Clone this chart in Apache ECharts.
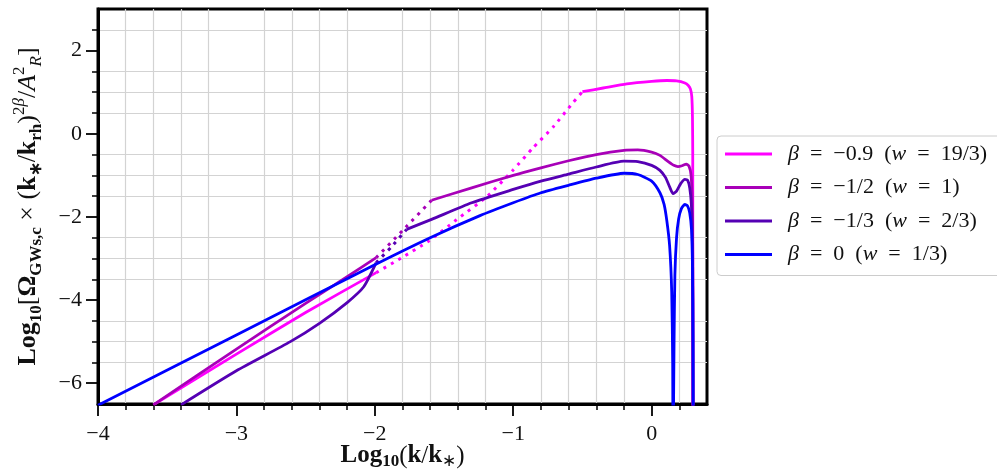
<!DOCTYPE html>
<html><head><meta charset="utf-8">
<script src="https://cdn.jsdelivr.net/npm/echarts@6/dist/echarts.min.js"></script>
<style>html,body{margin:0;padding:0;background:#fff}#c{width:997px;height:470px}</style>
</head><body><div id="c"></div>
<script>
// ---- tick values ----
const xMajorTicks = [-4, -3, -2, -1, 0];
const xMinorTicks = [-3.8, -3.6, -3.4, -3.2, -2.8, -2.6, -2.4, -2.2, -1.8, -1.6, -1.4, -1.2, -0.8, -0.6, -0.4, -0.2, 0.2];
const yMajorTicks = [-6, -4, -2, 0, 2];
const yMinorTicks = [-5.5, -5, -4.5, -3.5, -3, -2.5, -1.5, -1, -0.5, 0.5, 1, 1.5, 2.5];

// ---- legend names ----
const names = ['β  =  −0.9  (w  =  19/3)', 'β  =  −1/2  (w  =  1)', 'β  =  −1/3  (w  =  2/3)', 'β  =  0  (w  =  1/3)'];

// ---- beta = -0.9 (w = 19/3) ----
const m09Low = [[-3.60, -6.52], [-3.0, -5.30], [-2.5, -4.30], [-1.99, -3.34]];
const m09Dot = [[-1.99, -3.34], [-1.81, -2.99], [-1.61, -2.58], [-1.41, -2.07], [-1.19, -1.51], [-1.0, -0.87], [-0.86, -0.35], [-0.71, 0.17], [-0.57, 0.74], [-0.50, 1.01]];
const m09High = [[-0.50, 1.01], [-0.35, 1.10], [-0.18, 1.20], [0.0, 1.26], [0.11, 1.28], [0.18, 1.27], [0.24, 1.22], [0.265, 1.16], [0.28, 1.08], [0.29, 0.9], [0.295, 0.4], [0.297, -0.5], [0.298, -8]];

// ---- beta = -1/2 (w = 1) ----
const m05Low = [[-3.60, -6.52], [-3.0, -5.18], [-2.5, -4.08], [-2.2, -3.44], [-1.99, -2.98]];
const m05Dot = [[-1.99, -2.98], [-1.80, -2.33], [-1.59, -1.60]];
const m05High = [[-1.59, -1.60], [-1.3, -1.30], [-1.0, -1.00], [-0.8, -0.82], [-0.6, -0.65], [-0.4, -0.50], [-0.2, -0.40], [-0.1, -0.39], [0.0, -0.44], [0.06, -0.52], [0.12, -0.67], [0.16, -0.76], [0.19, -0.79], [0.22, -0.77], [0.25, -0.73], [0.27, -0.78], [0.285, -1.0], [0.293, -1.6], [0.297, -3.0], [0.299, -8]];

// ---- beta = -1/3 (w = 2/3) ----
const m03Low = [[-3.40, -6.52], [-3.0, -5.70], [-2.61, -5.00], [-2.40, -4.56], [-2.20, -4.06], [-2.08, -3.68], [-1.99, -3.10]];
const m03Dot = [[-1.99, -3.10], [-1.88, -2.72], [-1.77, -2.30]];
const m03High = [[-1.77, -2.30], [-1.59, -2.06], [-1.3, -1.66], [-1.0, -1.34], [-0.8, -1.14], [-0.6, -0.97], [-0.4, -0.80], [-0.2, -0.66], [-0.1, -0.67], [0.0, -0.76], [0.06, -0.88], [0.1, -1.05], [0.13, -1.28], [0.155, -1.44], [0.18, -1.38], [0.21, -1.20], [0.24, -1.10], [0.26, -1.12], [0.275, -1.3], [0.287, -1.7], [0.294, -2.5], [0.298, -4.0], [0.300, -8]];

// ---- beta = 0 (w = 1/3) ----
const m00 = [[-4.0, -6.53], [-3.0, -4.84], [-2.0, -3.15], [-1.6, -2.50], [-1.24, -1.97], [-1.0, -1.66], [-0.8, -1.42], [-0.6, -1.24], [-0.4, -1.07], [-0.2, -0.95], [-0.1, -0.98], [0.0, -1.14], [0.06, -1.42], [0.09, -1.70], [0.11, -2.1], [0.13, -2.7], [0.145, -3.8], [0.152, -5.5], [0.155, -8], [0.158, -8], [0.162, -5.0], [0.168, -3.4], [0.18, -2.5], [0.195, -2.05], [0.215, -1.80], [0.24, -1.70], [0.26, -1.74], [0.275, -1.9], [0.288, -2.3], [0.295, -3.2], [0.299, -5.0], [0.301, -8]];

const colors = ['#ff00ff', '#a800b8', '#5500b4', '#0000ff'];
const FONT = 'Liberation Serif';

function solid(name, data, color) {
  return { type: 'line', name: name, data: data, showSymbol: false, symbol: 'none', clip: true,
    smooth: 0.2,
    xAxisIndex: 0, yAxisIndex: 0, lineStyle: { color: color, width: 2.8, join: 'round' }, itemStyle: { color: color },
    emphasis: { disabled: true }, animation: false };
}
function dotted(name, data, color) {
  return { type: 'line', name: name, data: data, showSymbol: false, symbol: 'none', clip: true,
    smooth: 0.2,
    xAxisIndex: 0, yAxisIndex: 0, lineStyle: { color: color, width: 3, type: [3, 5.5], cap: 'butt' }, itemStyle: { color: color },
    emphasis: { disabled: true }, animation: false };
}

const series = [
  solid(names[0], m09Low, colors[0]), dotted('dot0', m09Dot, colors[0]), solid(names[0], m09High, colors[0]),
  solid(names[1], m05Low, colors[1]), dotted('dot1', m05Dot, colors[1]), solid(names[1], m05High, colors[1]),
  solid(names[2], m03Low, colors[2]), dotted('dot2', m03Dot, colors[2]), solid(names[2], m03High, colors[2]),
  solid(names[3], m00, colors[3])
];

const fmtMinus = v => (v < 0 ? '−' + Math.abs(v) : String(v));

const chart = echarts.init(document.getElementById('c'), null, { renderer: 'canvas' });
chart.setOption({
  animation: false,
  backgroundColor: '#fff',
  grid: { left: 98, right: 290, top: 9, bottom: 66, show: true, borderColor: '#000', borderWidth: 3,
    containLabel: false, outerBoundsMode: 'none' },
  legend: {
    data: names, orient: 'vertical', left: 717, top: 136,
    padding: [6, 30, 9, 8], itemGap: 9.5, itemWidth: 47, itemHeight: 3, icon: 'rect',
    borderColor: '#cccccc', borderWidth: 1, borderRadius: 4, backgroundColor: '#fff',
    selectedMode: false,
    formatter: n => '{g|β}' + n.slice(1).replace('(w', '({i|w}'),
    textStyle: { fontFamily: FONT, fontSize: 22, color: '#111', lineHeight: 24,
      rich: { g: { fontFamily: FONT, fontSize: 22, fontStyle: 'italic', padding: [0, 0, 0, 11], lineHeight: 24 },
              i: { fontFamily: FONT, fontSize: 22, fontStyle: 'italic', lineHeight: 24 } } }
  },
  xAxis: [
    { type: 'value', min: -4, max: 0.4, interval: 0.2, position: 'bottom',
      axisLine: { show: false, onZero: false }, axisLabel: { show: false },
      axisTick: { show: true, length: 6, customValues: xMinorTicks, lineStyle: { color: '#000', width: 1.5 } },
      splitLine: { show: true, lineStyle: { color: '#d3d3d3', width: 1.2 } } },
    { type: 'value', min: -4, max: 0.4, interval: 1, position: 'bottom',
      axisLine: { show: true, onZero: false, lineStyle: { color: '#000', width: 3 } },
      axisTick: { show: true, length: 12, customValues: xMajorTicks, lineStyle: { color: '#000', width: 1.8 } },
      axisLabel: { customValues: xMajorTicks, formatter: fmtMinus, fontFamily: FONT, fontSize: 22, color: '#111', margin: 19 },
      splitLine: { show: false },
      name: '{b|Log}{bs|10}{r|(}{b|k}{r|/}{b|k}{rs|∗}{r|)}', nameLocation: 'middle', nameGap: 38, nameMoveOverlap: false,
      nameTextStyle: { rich: {
        b: { fontFamily: FONT, fontWeight: 'bold', fontSize: 25, color: '#111', lineHeight: 28 },
        r: { fontFamily: FONT, fontSize: 25, color: '#111', lineHeight: 28 },
        bs: { fontFamily: FONT, fontWeight: 'bold', fontSize: 17, color: '#111', lineHeight: 20, verticalAlign: 'bottom' },
        rs: { fontFamily: FONT, fontSize: 17, color: '#111', lineHeight: 20, verticalAlign: 'bottom' } } } }
  ],
  yAxis: [
    { type: 'value', min: -6.5, max: 3, interval: 0.5, position: 'left',
      axisLine: { show: false, onZero: false }, axisLabel: { show: false },
      axisTick: { show: true, length: 6, customValues: yMinorTicks, lineStyle: { color: '#000', width: 1.5 } },
      splitLine: { show: true, lineStyle: { color: '#d3d3d3', width: 1.2 } } },
    { type: 'value', min: -6.5, max: 3, interval: 0.5, position: 'left',
      axisLine: { show: true, onZero: false, lineStyle: { color: '#000', width: 3 } },
      axisTick: { show: true, length: 12, customValues: yMajorTicks, lineStyle: { color: '#000', width: 1.8 } },
      axisLabel: { customValues: yMajorTicks, formatter: fmtMinus, fontFamily: FONT, fontSize: 22, color: '#111', margin: 16 },
      splitLine: { show: false },
      name: '{b|Log}{bs|10}{r|[}{b|Ω}{bs|GWs,c}{r| × (}{b|k}{bs|∗}{r|/}{b|k}{bs|rh}{r|)}{sup|2}{supi|β}{r|/}{cal|A}{sup|2}{sub|R}{r|]}',
      nameLocation: 'middle', nameRotate: 90, nameGap: 53, nameMoveOverlap: false,
      nameTextStyle: { rich: {
        b: { fontFamily: FONT, fontWeight: 'bold', fontSize: 26, color: '#111', lineHeight: 34 },
        r: { fontFamily: FONT, fontSize: 26, color: '#111', lineHeight: 34 },
        cal: { fontFamily: FONT, fontStyle: 'italic', fontSize: 26, color: '#111', lineHeight: 34 },
        bs: { fontFamily: FONT, fontWeight: 'bold', fontSize: 17, color: '#111', lineHeight: 24, verticalAlign: 'bottom' },
        sub: { fontFamily: FONT, fontStyle: 'italic', fontSize: 17, color: '#111', lineHeight: 24, verticalAlign: 'bottom' },
        sup: { fontFamily: FONT, fontSize: 17, color: '#111', lineHeight: 24, verticalAlign: 'top' },
        supi: { fontFamily: FONT, fontStyle: 'italic', fontSize: 17, color: '#111', lineHeight: 24, verticalAlign: 'top' } } } }
  ],
  series: series
});
</script>
</body></html>
